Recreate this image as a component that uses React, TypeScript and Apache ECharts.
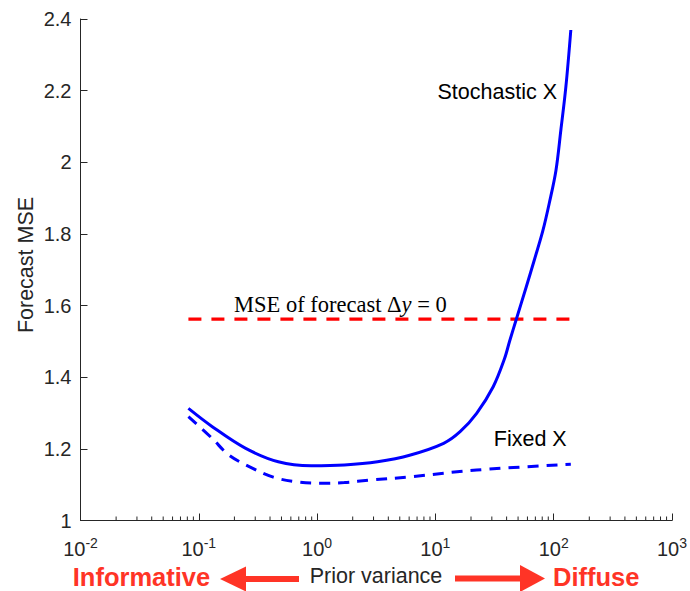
import React, { useEffect, useRef } from "react";
import * as echarts from "echarts";

// Prior variance (x) and Forecast MSE (y) for "Stochastic X"
const stochasticX = [0.0817, 0.13, 0.247, 0.47, 0.893, 1.7, 3.24, 6.16, 11.74, 16.17, 22.32, 30.81, 38.31, 42.45, 48.31, 58.59, 68.79, 80.9, 91.85, 104.5, 115, 126.8, 139.6];
const stochasticY = [1.313, 1.262, 1.202, 1.164, 1.153, 1.155, 1.164, 1.183, 1.2155, 1.2479, 1.2993, 1.3735, 1.4508, 1.5011, 1.5617, 1.6518, 1.7286, 1.8082, 1.8863, 1.9772, 2.0901, 2.211, 2.3693];

// "Fixed X"
const fixedX = [0.0817, 0.13, 0.179, 0.272, 0.426, 0.67, 1.08, 1.7, 2.85, 6.16, 22.3, 139.6];
const fixedY = [1.29, 1.229, 1.183, 1.149, 1.121, 1.108, 1.104, 1.106, 1.113, 1.122, 1.141, 1.157];

// MSE of forecast Δy = 0
const naiveX = [0.0817, 139.6];
const naiveY = [1.562, 1.562];

const yTickLabels = ["1", "1.2", "1.4", "1.6", "1.8", "2", "2.2", "2.4"];
const xDecades = [0.01, 0.1, 1, 10, 100];
const minorMantissas = [2, 3, 4, 5, 6, 7, 8, 9];

const AXIS = "#262626";
const RED = "#FF3426";
const SANS = "'Liberation Sans', Arial, Helvetica, sans-serif";
const SERIF = "'Liberation Serif', 'Times New Roman', serif";

export default function App() {
  const ref = useRef<HTMLDivElement>(null);
  useEffect(() => {
    if (!ref.current) return;
    const chart = echarts.init(ref.current, null, { renderer: "svg" });
    const pairs = (xs: number[], ys: number[]) => xs.map((x, i) => [x, ys[i]]);
    const minorTicks: number[][] = [];
    xDecades.forEach((d) => minorMantissas.forEach((m) => minorTicks.push([d * m, 1])));

    chart.setOption({
      animation: false,
      textStyle: { fontFamily: SANS },
      grid: { left: 80.5, right: 13, top: 19, bottom: 70.5 },
      xAxis: {
        type: "log",
        logBase: 10,
        min: 0.01,
        max: 1000,
        splitNumber: 5,
        splitLine: { show: false },
        axisLine: { onZero: false, lineStyle: { color: AXIS, width: 1 } },
        axisTick: { inside: true, length: 7, lineStyle: { color: AXIS } },
        axisLabel: {
          margin: 15,
          formatter: (v: number) => `{b|10}{s|${Math.round(Math.log10(v))}}`,
          rich: {
            b: { fontSize: 20, color: AXIS, fontFamily: SANS },
            s: { fontSize: 14, color: AXIS, fontFamily: SANS, padding: [0, 0, 12, 0] },
          },
        },
      },
      yAxis: {
        type: "value",
        min: 1,
        max: 2.4,
        interval: 0.2,
        splitLine: { show: false },
        axisLine: { show: true, lineStyle: { color: AXIS, width: 1 } },
        axisTick: { inside: true, length: 7, lineStyle: { color: AXIS } },
        axisLabel: {
          margin: 9,
          fontSize: 20,
          color: AXIS,
          formatter: (v: number) => yTickLabels[Math.round((v - 1) / 0.2)] ?? String(v),
        },
      },
      series: [
        {
          type: "line",
          data: pairs(naiveX, naiveY),
          symbol: "none",
          lineStyle: { color: "#FF0000", width: 3.3, type: [13, 10] },
          z: 3,
        },
        {
          type: "line",
          data: pairs(fixedX, fixedY),
          symbol: "none",
          smooth: 0.35,
          lineStyle: { color: "#0000FF", width: 3, type: [11, 8] },
          z: 4,
        },
        {
          type: "line",
          data: pairs(stochasticX, stochasticY),
          symbol: "none",
          smooth: 0.35,
          lineStyle: { color: "#0000FF", width: 3 },
          z: 5,
        },
        {
          type: "custom",
          clip: false,
          silent: true,
          data: minorTicks,
          renderItem: (_params: any, api: any) => {
            const p = api.coord([api.value(0), api.value(1)]);
            return {
              type: "line",
              shape: { x1: p[0], y1: p[1], x2: p[0], y2: p[1] - 4 },
              style: { stroke: AXIS, lineWidth: 1 },
            };
          },
          z: 2,
        },
      ],
      graphic: [
        {
          type: "text",
          x: 25.5,
          y: 265,
          rotation: Math.PI / 2,
          style: { text: "Forecast MSE", align: "center", verticalAlign: "middle", fontSize: 21.5, fill: AXIS, fontFamily: SANS },
        },
        {
          type: "text",
          x: 557,
          y: 91.5,
          style: { text: "Stochastic X", align: "right", verticalAlign: "middle", fontSize: 21.5, fill: "#000", fontFamily: SANS },
        },
        {
          type: "text",
          x: 566.7,
          y: 439,
          style: { text: "Fixed X", align: "right", verticalAlign: "middle", fontSize: 21.5, fill: "#000", fontFamily: SANS },
        },
        {
          type: "text",
          x: 234,
          y: 304,
          style: {
            text: "{r|MSE of forecast }{r|Δ}{i|y}{r| = 0}",
            align: "left",
            verticalAlign: "middle",
            rich: {
              r: { fontSize: 22.5, fontFamily: SERIF, fill: "#000" },
              i: { fontSize: 22.5, fontStyle: "italic", fontFamily: SERIF, fill: "#000" },
            },
          },
        },
        {
          type: "text",
          x: 141.5,
          y: 576.5,
          style: { text: "Informative", align: "center", verticalAlign: "middle", fontSize: 25.5, lineHeight: 22, fontWeight: "bold", fill: RED, fontFamily: SANS },
        },
        {
          type: "text",
          x: 553,
          y: 576.5,
          style: { text: "Diffuse", align: "left", verticalAlign: "middle", fontSize: 25.5, lineHeight: 22, fontWeight: "bold", fill: RED, fontFamily: SANS },
        },
        {
          type: "text",
          x: 376,
          y: 576,
          style: { text: "Prior variance", align: "center", verticalAlign: "middle", fontSize: 21.5, fill: AXIS, fontFamily: SANS },
        },
        { type: "rect", shape: { x: 243, y: 576, width: 56, height: 6 }, style: { fill: RED } },
        { type: "polygon", shape: { points: [[220, 579], [246, 566.5], [246, 591.5]] }, style: { fill: RED } },
        { type: "rect", shape: { x: 455, y: 575.5, width: 67, height: 6 }, style: { fill: RED } },
        { type: "polygon", shape: { points: [[545, 578.5], [520, 565], [520, 592]] }, style: { fill: RED } },
      ],
    });
    return () => chart.dispose();
  }, []);
  return <div ref={ref} style={{ position: "absolute", left: 0, top: 0, width: 690, height: 591 }} />;
}
